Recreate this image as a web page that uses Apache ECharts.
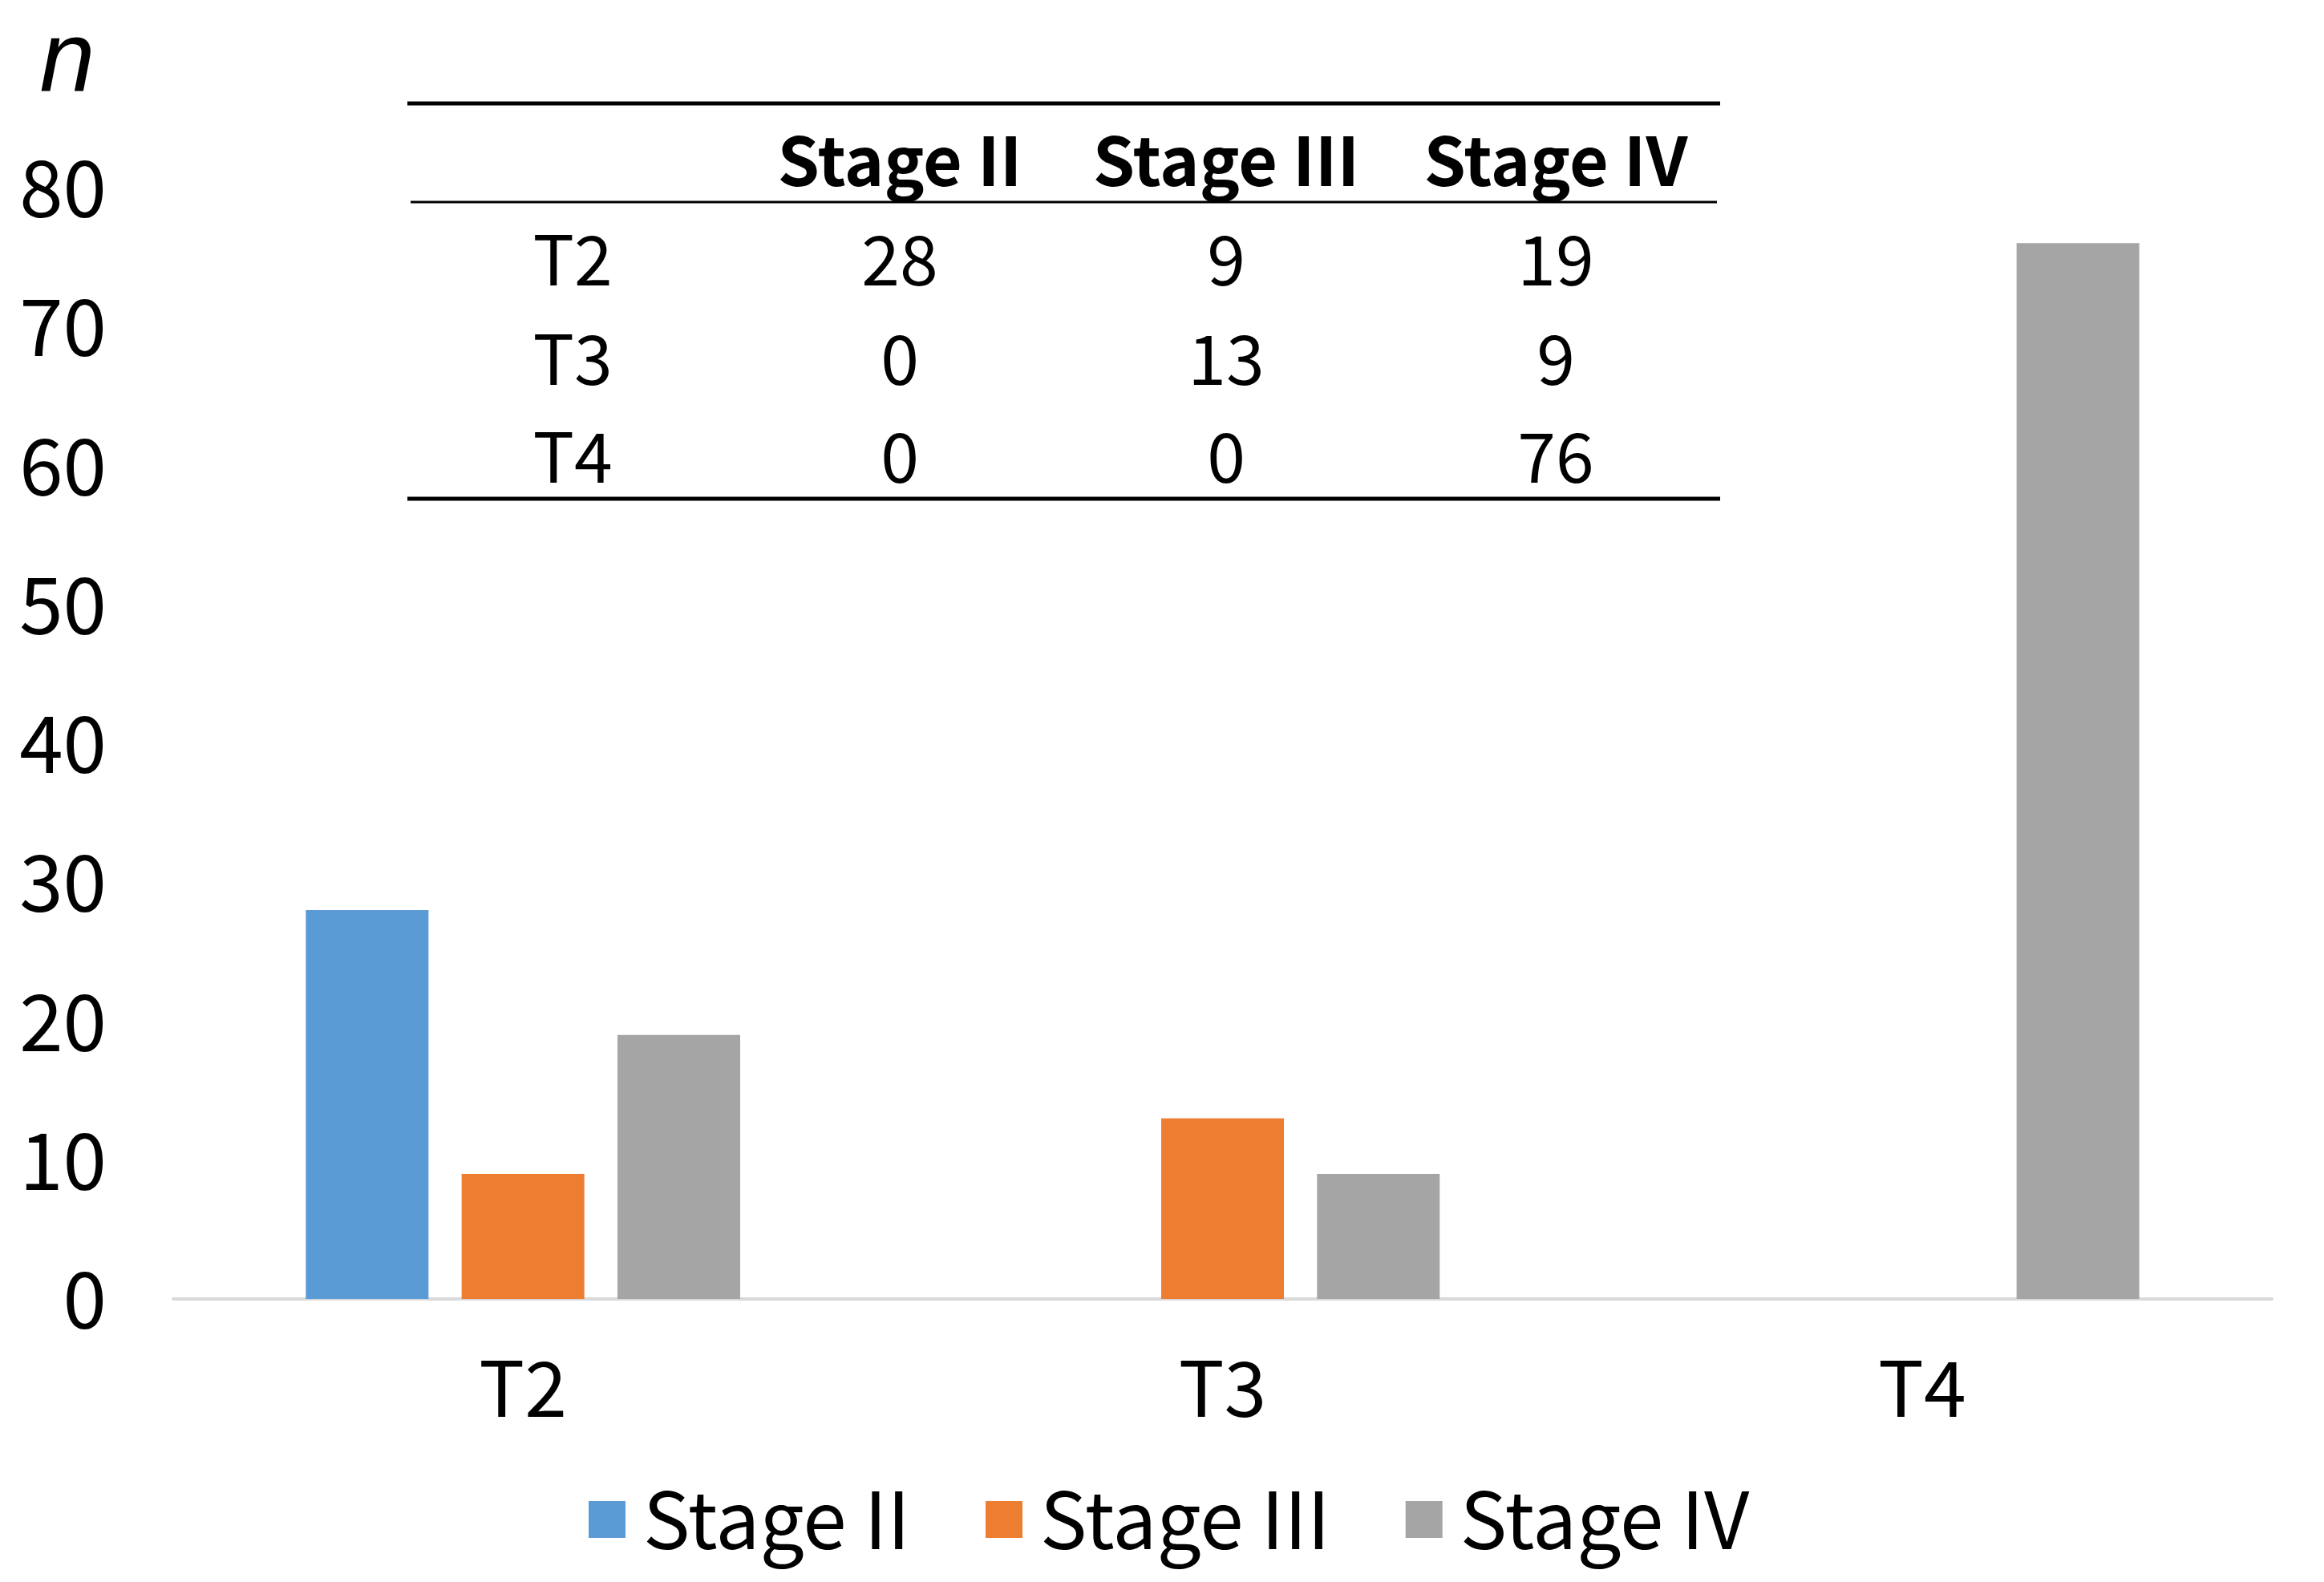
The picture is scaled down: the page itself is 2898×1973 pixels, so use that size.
<!DOCTYPE html>
<html>
<head>
<meta charset="utf-8">
<script src="https://cdn.jsdelivr.net/npm/echarts@6/dist/echarts.min.js"></script>
<style>html,body{margin:0;padding:0;background:#fff}#c{width:2898px;height:1973px}</style>
</head>
<body>
<div id="c"></div>
<script>
const categories = ['T2', 'T3', 'T4'];
const seriesNames = ['Stage II', 'Stage III', 'Stage IV'];
const stageII = [28, 0, 0];
const stageIII = [9, 13, 0];
const stageIV = [19, 9, 76];
const yTicks = [0, 10, 20, 30, 40, 50, 60, 70, 80];
const colors = ['#5b9bd5', '#ed7d31', '#a5a5a5'];

const FONT = '"Noto Sans CJK SC", "Noto Sans", sans-serif';
const seriesValues = [stageII, stageIII, stageIV];

// table (inset) built from the same data arrays
const colX = [1122, 1529, 1940];
const rowLabelX = 714;
const headerY = 200;
const rowY = [323, 447, 569];
const graphics = [
  { type: 'line', shape: { x1: 508, y1: 129, x2: 2145, y2: 129 }, style: { stroke: '#000', lineWidth: 5 } },
  { type: 'line', shape: { x1: 512, y1: 252, x2: 2141, y2: 252 }, style: { stroke: '#000', lineWidth: 3 } },
  { type: 'line', shape: { x1: 508, y1: 622, x2: 2145, y2: 622 }, style: { stroke: '#000', lineWidth: 5 } },
  { type: 'text', style: { text: 'n', x: 84, y: 78, fill: '#000', fontSize: 124, fontStyle: 'italic', fontFamily: '"Liberation Sans", sans-serif',
      textAlign: 'center', textVerticalAlign: 'middle', align: 'center', verticalAlign: 'middle' } }
];
seriesNames.forEach((nm, j) => {
  graphics.push({ type: 'text', style: { text: nm, x: colX[j], y: headerY, fill: '#000', fontSize: 84, fontWeight: 'bold', fontFamily: FONT,
    textAlign: 'center', textVerticalAlign: 'middle', align: 'center', verticalAlign: 'middle' } });
});
categories.forEach((cat, i) => {
  graphics.push({ type: 'text', style: { text: cat, x: rowLabelX, y: rowY[i], fill: '#000', fontSize: 86, fontFamily: FONT,
    textAlign: 'center', textVerticalAlign: 'middle', align: 'center', verticalAlign: 'middle' } });
  seriesValues.forEach((arr, j) => {
    graphics.push({ type: 'text', style: { text: String(arr[i]), x: colX[j], y: rowY[i], fill: '#000', fontSize: 86, fontFamily: FONT,
      textAlign: 'center', textVerticalAlign: 'middle', align: 'center', verticalAlign: 'middle' } });
  });
});

const chart = echarts.init(document.getElementById('c'), null, { renderer: 'canvas' });
chart.setOption({
  animation: false,
  backgroundColor: '#fff',
  color: colors,
  textStyle: { fontFamily: FONT },
  grid: { left: 216, right: 65, top: 234, bottom: 353, containLabel: false },
  legend: {
    data: seriesNames,
    left: 729, top: 1841,
    icon: 'rect', itemWidth: 46, itemHeight: 46, itemGap: 94,
    textStyle: { fontSize: 98, color: '#000', fontFamily: FONT, padding: [0, 0, 0, 17] }
  },
  xAxis: {
    type: 'category',
    data: categories,
    axisLine: { show: true, lineStyle: { color: '#d9d9d9', width: 4 } },
    axisTick: { show: false },
    axisLabel: { fontSize: 95, color: '#000', margin: 63, fontFamily: FONT },
    splitLine: { show: false }
  },
  yAxis: {
    type: 'value',
    min: yTicks[0], max: yTicks[yTicks.length - 1], interval: yTicks[1] - yTicks[0],
    axisLine: { show: false },
    axisTick: { show: false },
    splitLine: { show: false },
    axisLabel: { fontSize: 98, color: '#000', margin: 83, fontFamily: FONT, padding: [0, 0, 8, 0] }
  },
  series: seriesNames.map((nm, j) => ({
    name: nm,
    type: 'bar',
    data: seriesValues[j],
    barWidth: 153,
    barGap: '27%',
    itemStyle: { color: colors[j] }
  })),
  graphic: graphics
});
</script>
</body>
</html>
